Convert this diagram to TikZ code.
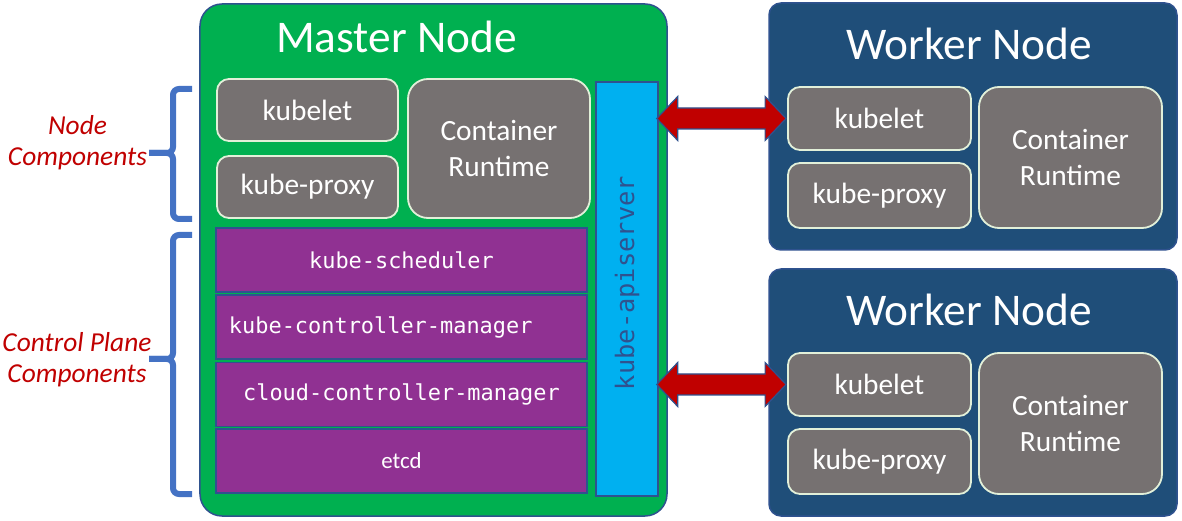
\documentclass[tikz,border=0pt]{standalone}
\usepackage{fontspec}
\setmainfont{Carlito}
\setmonofont{DejaVu Sans Mono}
\usetikzlibrary{calc}
\definecolor{mgreen}{HTML}{00B050}
\definecolor{mblue}{HTML}{2F528F}
\definecolor{wblue}{HTML}{1F4E79}
\definecolor{ggray}{HTML}{767171}
\definecolor{gborder}{HTML}{E2F0D9}
\definecolor{mpurple}{HTML}{903192}
\definecolor{mcyan}{HTML}{00B0F0}
\definecolor{kred}{HTML}{C00000}
\definecolor{braceblue}{HTML}{4472C4}
\begin{document}
\begin{tikzpicture}[x=1bp,y=-1bp,
  bigbox/.style={draw=mblue, line width=1.5bp, inner sep=0pt},
  title/.style={text=white, anchor=base, inner sep=0pt, font=\fontsize{45.5}{50}\selectfont},
  gbox/.style={draw=gborder, line width=1.8bp, fill=ggray, rounded corners=12bp, text=white,
    inner sep=0pt, align=center, font=\fontsize{29.5}{37}\selectfont},
  pbox/.style={draw=mblue, line width=1.5bp, fill=mpurple, text=white, inner sep=0pt,
    minimum width=371bp, minimum height=64bp, font=\ttfamily\fontsize{22}{26}\selectfont},
  brace/.style={draw=braceblue, line width=6bp, rounded corners=6bp},
  lbl/.style={text=kred, align=center, inner sep=0pt, font=\itshape\fontsize{27.5}{31.5}\selectfont},
  linkarrow/.style={fill=kred, draw=mblue, line width=1.2bp, line join=miter}
]
\useasboundingbox (0,0) rectangle (1182,521);

% Master node
\node[bigbox, fill=mgreen, rounded corners=22bp, minimum width=467bp, minimum height=512bp] (m) at (433.5,260) {};
\node[title] (mt) at (396.5,53) {Master Node};
\node[gbox, minimum width=181bp, minimum height=62bp] (mkl) at (307.5,110) {kubelet};
\node[gbox, minimum width=181bp, minimum height=62bp] (mkp) at (307.5,187) {kube-proxy};
\node[gbox, rounded corners=20bp, minimum width=182bp, minimum height=139bp] (mcr) at (499,148.5) {Container\\Runtime};
\node[bigbox, fill=mcyan, minimum width=62bp, minimum height=414bp] (api) at (627,289) {};
\node[rotate=90, text=mblue, inner sep=0pt, font=\ttfamily\fontsize{25.5}{30}\selectfont] (apit) at (627,283) {kube-apiserver};
\node[pbox] (sch) at (401.5,260) {kube-scheduler};
\node[pbox, text width=345bp, align=left] (kcm) at (401.5,327) {kube-controller-manager};
\node[pbox] (ccm) at (401.5,394.5) {cloud-controller-manager};
\node[pbox, font=\fontsize{23}{26}\selectfont] (etcd) at (401.5,461) {etcd};

% Worker node 1
\node[bigbox, fill=wblue, rounded corners=12bp, minimum width=408bp, minimum height=247bp] (w1) at (973,126.5) {};
\node[title] (w1t) at (969,60) {Worker Node};
\node[gbox, minimum width=183bp, minimum height=63bp] (w1kl) at (879.5,118.5) {kubelet};
\node[gbox, minimum width=183bp, minimum height=65bp] (w1kp) at (879.5,195.5) {kube-proxy};
\node[gbox, rounded corners=20bp, minimum width=183bp, minimum height=141bp] (w1cr) at (1070.5,157.5) {Container\\Runtime};

% Worker node 2
\node[bigbox, fill=wblue, rounded corners=12bp, minimum width=408bp, minimum height=247bp] (w2) at (973,392.5) {};
\node[title] (w2t) at (969,326) {Worker Node};
\node[gbox, minimum width=183bp, minimum height=63bp] (w2kl) at (879.5,384.5) {kubelet};
\node[gbox, minimum width=183bp, minimum height=65bp] (w2kp) at (879.5,461.5) {kube-proxy};
\node[gbox, rounded corners=20bp, minimum width=183bp, minimum height=141bp] (w2cr) at (1070.5,423.5) {Container\\Runtime};

% double arrows
\foreach \tgt in {w1kl,w2kl}{
  \path[linkarrow] let \p1=($(api.east |- \tgt.west)+(-2bp,0)$), \p2=($(\tgt.west)+(-1bp,0)$) in
    (\x1,\y1) -- (\x1+21bp,\y1+22bp) -- (\x1+21bp,\y1+10.5bp) -- (\x2-21bp,\y1+10.5bp)
    -- (\x2-21bp,\y1+22bp) -- (\x2,\y1) -- (\x2-21bp,\y1-22bp) -- (\x2-21bp,\y1-10.5bp)
    -- (\x1+21bp,\y1-10.5bp) -- (\x1+21bp,\y1-22bp) -- cycle;
}

% braces
\draw[brace] (192,89) -- (173,89) -- (173,153) -- (149,153);
\draw[brace] (149,153) -- (173,153) -- (173,219) -- (192,219);
\draw[brace] (192,235) -- (173,235) -- (173,359) -- (149,359);
\draw[brace] (149,359) -- (173,359) -- (173,494) -- (192,494);

% labels
\node[lbl] (lnode) at (77.5,142.5) {Node\\Components};
\node[lbl] (lcp) at (77,360) {Control Plane\\Components};
\end{tikzpicture}
\end{document}
